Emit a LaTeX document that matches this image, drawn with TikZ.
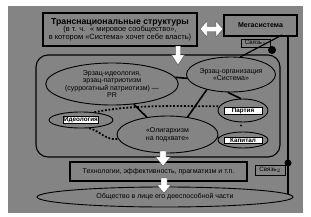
\documentclass[tikz,border=0pt]{standalone}
\usepackage{fontspec}
\setmainfont{Liberation Sans}
\usetikzlibrary{shapes.geometric}
\definecolor{bgc}{RGB}{132,132,132}
\begin{document}
\begin{tikzpicture}[x=1pt,y=-1pt,
  font=\fontsize{7}{7.6}\selectfont,
  ell/.style={draw, ellipse, fill=bgc, line width=0.9pt, inner sep=0pt, align=center},
  heavybox/.style={draw, line width=2pt, fill=bgc, inner sep=0pt, align=center},
  linkbox/.style={draw, line width=0.7pt, fill=bgc, inner sep=0pt, font=\fontsize{6.3}{6.3}\selectfont},
  lab/.style={draw, fill=white, line width=0.6pt, inner sep=0.8pt, font=\bfseries\fontsize{6.3}{6.3}\selectfont},
  tie/.style={line width=1.6pt},
  dotline/.style={line width=1.8pt, dash pattern=on 1.8pt off 1.8pt},
  warrow/.style={fill=white, draw=black!70, line width=0.4pt},
  jdot/.style={circle, fill=black, inner sep=0pt}
]
\useasboundingbox (0,0) rectangle (311,217);
\fill[bgc] (8,6) rectangle (303,213);

% top boxes
\node[heavybox, minimum width=154pt, minimum height=33pt] (tnc) at (120,29.5)
  {{\bfseries\fontsize{8.7}{9}\selectfont Транснациональные структуры}\\[-0.5pt]
   \fontsize{7.5}{8.5}\selectfont (в т. ч. \ « мировое сообщество»,\\
   \fontsize{7.5}{8.5}\selectfont в котором «Система» хочет себе власть)};
\node[heavybox, minimum width=73pt, minimum height=21pt, font=\bfseries\fontsize{7}{7}\selectfont] (mega) at (260.5,25.5) {Мегасистема};
\node[linkbox, minimum width=29pt, minimum height=8pt] (sv1) at (255.5,43) {Связь$_1$};

% system frame
\node[draw, line width=1.1pt, rounded corners=12pt, minimum width=244pt, minimum height=102pt] (sys) at (158,106) {};

% ellipses
\node[ell, minimum width=120pt, minimum height=42pt] (e1) at (112,84)
  {Эрзац-идеология,\\эрзац-патриотизм\\(суррогатный патриотизм) —\\PR};
\node[ell, minimum width=84pt, minimum height=35pt] (e2) at (231,74.5)
  {Эрзац-организация\\«Система»};
\node[ell, minimum width=64pt, minimum height=16pt] (ideol) at (81,120) {};
\node[lab] at (ideol) {Идеология};
\node[ell, minimum width=50pt, minimum height=23pt] (par) at (243,110.5) {};
\node[lab, minimum width=38pt] at (par) {Партия};
\node[ell, minimum width=50pt, minimum height=16pt] (kap) at (243,140) {};
\node[lab, minimum width=38pt] at (kap) {Капитал};
\node[ell, minimum width=101pt, minimum height=37pt] (olig) at (167.5,134.5)
  {«Олигархизм\\на подхвате»};

% lower boxes
\node[heavybox, minimum width=177pt, minimum height=19pt] (tech) at (158.5,171.5)
  {Технологии, эффективность, прагматизм и т.п.};
\node[ell, minimum width=256pt, minimum height=20pt] (soc) at (165,197)
  {Общество в лице его дееспособной части};
\node[linkbox, minimum width=30pt, minimum height=10pt] (sv2) at (270,170) {Связь$_2$};

% connectors inside
\draw[tie] (e1.6) -- (e2.185);
\draw[tie] (e1.-43) -- (olig.140);
\draw[tie] (e2.212) -- (olig.41);
\draw[tie] (e2.-100) -- (par.100);
\draw[tie] (olig.-3) -- (kap.175);
\draw[dotline] (ideol.30) to[out=12,in=180,looseness=0.8] (par.170);
\draw[dotline] (ideol.-45) to[out=-15,in=190] (olig.185);
\node[jdot, minimum size=2.4pt] (pk) at (241,125.5) {};

% right links
\coordinate (m1) at (mega.south -| 288,0);
\coordinate (r1) at (288,194);
\draw[line width=1.8pt] (m1) -- (r1);
\coordinate (mdiag) at (282,35);
\draw[line width=1.2pt] (mdiag) -- (e2.62);
\node[jdot, minimum size=8pt] (d1) at (272,50) {};
\node[jdot, minimum size=7pt] (d2) at (288,163) {};

% fat white arrows
\draw[warrow] (180.5,46) -- ++(0,9) -- ++(4,0) -- ++(-6.5,10) -- ++(-6.5,-10) -- ++(4,0) -- ++(0,-9) -- cycle;
\draw[warrow] (200,29) -- ++(7,-8) -- ++(0,5.5) -- ++(9,0) -- ++(0,-5.5) -- ++(7,8) -- ++(-7,8) -- ++(0,-5.5) -- ++(-9,0) -- ++(0,5.5) -- cycle;
\draw[warrow] (166,151) -- ++(0,6) -- ++(4.5,0) -- ++(-7.5,9) -- ++(-7.5,-9) -- ++(4.5,0) -- ++(0,-6) -- cycle;
\draw[warrow] (167,178) -- ++(0,7) -- ++(4,0) -- ++(-7,8) -- ++(-7,-8) -- ++(4,0) -- ++(0,-7) -- cycle;
\end{tikzpicture}
\end{document}
